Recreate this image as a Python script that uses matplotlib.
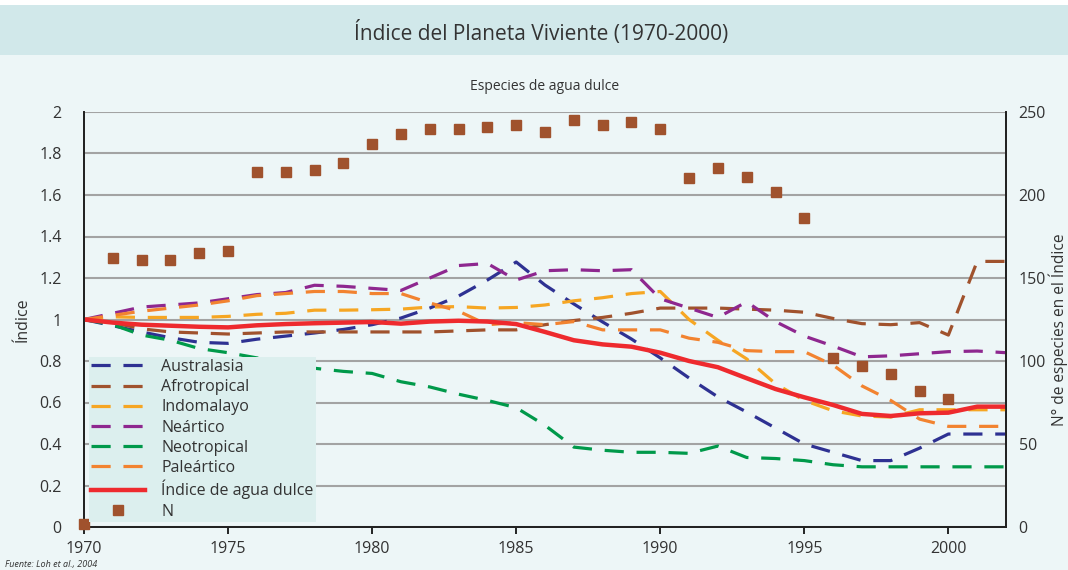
import matplotlib
matplotlib.use('Agg')
import matplotlib.pyplot as plt
from matplotlib.patches import Rectangle
from matplotlib.lines import Line2D

# data
years = list(range(1970, 2003))

australasia = [1.0, 0.97, 0.94, 0.912, 0.89, 0.885, 0.905, 0.92, 0.935, 0.952, 0.975,
               1.007, 1.055, 1.113, 1.19, 1.277, 1.166, 1.075, 0.988, 0.906, 0.815,
               0.718, 0.627, 0.554, 0.477, 0.40, 0.36, 0.32, 0.32, 0.38, 0.448, 0.448, 0.448]
afrotropical = [1.0, 0.985, 0.955, 0.94, 0.935, 0.93, 0.935, 0.94, 0.94, 0.94, 0.94,
                0.94, 0.94, 0.945, 0.95, 0.95, 0.975, 0.995, 1.01, 1.03, 1.055,
                1.055, 1.055, 1.05, 1.045, 1.035, 1.005, 0.98, 0.975, 0.985, 0.925, 1.28, 1.28]
indomalayo = [1.0, 1.013, 1.01, 1.01, 1.01, 1.015, 1.025, 1.03, 1.045, 1.045, 1.047,
              1.05, 1.06, 1.062, 1.055, 1.058, 1.07, 1.09, 1.105, 1.125, 1.135,
              1.0, 0.9, 0.81, 0.69, 0.61, 0.56, 0.535, 0.53, 0.565, 0.565, 0.565, 0.565]
neartico = [1.0, 1.03, 1.06, 1.07, 1.08, 1.1, 1.12, 1.13, 1.165, 1.16, 1.15,
            1.14, 1.2, 1.26, 1.27, 1.19, 1.235, 1.24, 1.235, 1.24, 1.1,
            1.055, 1.01, 1.085, 0.99, 0.92, 0.872, 0.82, 0.825, 0.835, 0.845, 0.848, 0.84]
neotropical = [1.0, 0.975, 0.925, 0.9, 0.86, 0.84, 0.815, 0.79, 0.765, 0.75, 0.74,
               0.7, 0.675, 0.64, 0.61, 0.575, 0.49, 0.385, 0.37, 0.36, 0.36,
               0.355, 0.39, 0.335, 0.33, 0.32, 0.30, 0.29, 0.29, 0.29, 0.29, 0.29, 0.29]
palearctico = [1.0, 1.02, 1.04, 1.055, 1.07, 1.09, 1.115, 1.125, 1.135, 1.135, 1.125,
               1.125, 1.08, 1.04, 0.975, 0.985, 0.975, 0.99, 0.95, 0.95, 0.95,
               0.91, 0.89, 0.85, 0.845, 0.845, 0.78, 0.68, 0.61, 0.52, 0.485, 0.485, 0.485]
agua_dulce = [1.0, 0.985, 0.975, 0.97, 0.965, 0.962, 0.972, 0.978, 0.982, 0.985, 0.988,
              0.98, 0.99, 0.994, 0.99, 0.978, 0.94, 0.90, 0.88, 0.869, 0.84,
              0.80, 0.77, 0.717, 0.665, 0.625, 0.588, 0.545, 0.535, 0.548, 0.551, 0.58, 0.58]

n_years = list(range(1970, 2001))
n_species = [2, 162, 161, 161, 165, 166, 214, 214, 215, 219, 231,
             237, 240, 240, 241, 242, 238, 245, 242, 244, 240,
             210, 216, 211, 202, 186, 102, 97, 92, 82, 77]

series = [
    ('Australasia', australasia, '#2e3192'),
    ('Afrotropical', afrotropical, '#a0522d'),
    ('Indomalayo', indomalayo, '#f6a623'),
    ('Neártico', neartico, '#8e278f'),
    ('Neotropical', neotropical, '#00994a'),
    ('Paleártico', palearctico, '#f28330'),
]

bg = '#edf6f7'
plt.rcParams['font.family'] = ['Open Sans', 'DejaVu Sans']

fig = plt.figure(figsize=(10.68, 5.70), dpi=100, facecolor=bg)

# title band
fig.patches.append(Rectangle((0, 1 - 55 / 570), 1, 50 / 570, transform=fig.transFigure,
                             facecolor='#d1e8ea', edgecolor='none', zorder=0))
fig.patches.append(Rectangle((0, 1 - 5 / 570), 1, 5 / 570, transform=fig.transFigure,
                             facecolor='white', edgecolor='none', zorder=0))
fig.text(0.507, 1 - 33 / 570, 'Índice del Planeta Viviente (1970-2000)', ha='center', va='center',
         fontsize=15, color='#333333')
fig.text(0.51, 1 - 87 / 570, 'Especies de agua dulce', ha='center', va='center',
         fontsize=10, color='#333333')
fig.text(0.005, 1 - 564 / 570, 'Fuente: Loh et al., 2004', ha='left', va='center',
         fontsize=6.5, style='italic', color='#333333')
fig.text(1058 / 1068, 1 - 330 / 570, 'N° de especies en el Índice', rotation=90,
         ha='center', va='center', fontsize=11.2, color='#333333')

ax = fig.add_axes([84 / 1068, 1 - 527 / 570, 922 / 1068, 415 / 570])
ax.set_facecolor(bg)
ax2 = ax.twinx()

ax.set_ylim(0, 2)
ax.set_xlim(1970, 2002)
ax2.set_ylim(0, 250)

ax.set_yticks([0, 0.2, 0.4, 0.6, 0.8, 1, 1.2, 1.4, 1.6, 1.8, 2])
ax.set_yticklabels(['0', '0.2', '0.4', '0.6', '0.8', '1', '1.2', '1.4', '1.6', '1.8', '2'])
ax.set_xticks([1970, 1975, 1980, 1985, 1990, 1995, 2000])
ax2.set_yticks([0, 50, 100, 150, 200, 250])

ax.grid(axis='y', color='#a3a3a3', linewidth=1.5)
ax.set_axisbelow(True)
ax.tick_params(axis='y', length=0, pad=16, labelsize=11.5, labelcolor='#333333')
ax.tick_params(axis='x', length=5, width=1.2, pad=5, labelsize=11.5, labelcolor='#333333')
ax2.tick_params(axis='y', length=0, pad=9, labelsize=11.5, labelcolor='#333333')

for a in (ax, ax2):
    a.spines['top'].set_visible(False)
    for s in ('left', 'right', 'bottom'):
        a.spines[s].set_color('#222222')
        a.spines[s].set_linewidth(1.3)

ax.set_ylabel('Índice', fontsize=11.5, color='#333333', labelpad=6)

handles = []
for name, vals, col in series:
    ln, = ax.plot(years, vals, color=col, linewidth=2.3, dashes=(6, 4), label=name, zorder=3)
    handles.append(ln)
red, = ax.plot(years, agua_dulce, color='#ee2a2e', linewidth=3.2, label='Índice de agua dulce', zorder=4)
handles.append(red)
ax2.plot(n_years, n_species, linestyle='none', marker='s', markersize=7,
         color='#a0522d', clip_on=False, zorder=5)
handles.append(Line2D([], [], linestyle='none', marker='s', markersize=7, color='#a0522d', label='N'))

ax2.set_zorder(ax.get_zorder() + 1)
ax2.patch.set_visible(False)

leg = ax2.legend(handles=handles, loc='lower left', bbox_to_anchor=(0.005, 0.012),
                 frameon=True, fancybox=False, fontsize=11.5, handlelength=3.4,
                 handletextpad=1.0, labelspacing=0.26, borderpad=0.15, borderaxespad=0)
leg.get_frame().set_facecolor('#dcefee')
leg.get_frame().set_edgecolor('none')
leg.get_frame().set_alpha(1)
for t in leg.get_texts():
    t.set_color('#333333')

fig.savefig('out.png', dpi=100, facecolor=bg)
